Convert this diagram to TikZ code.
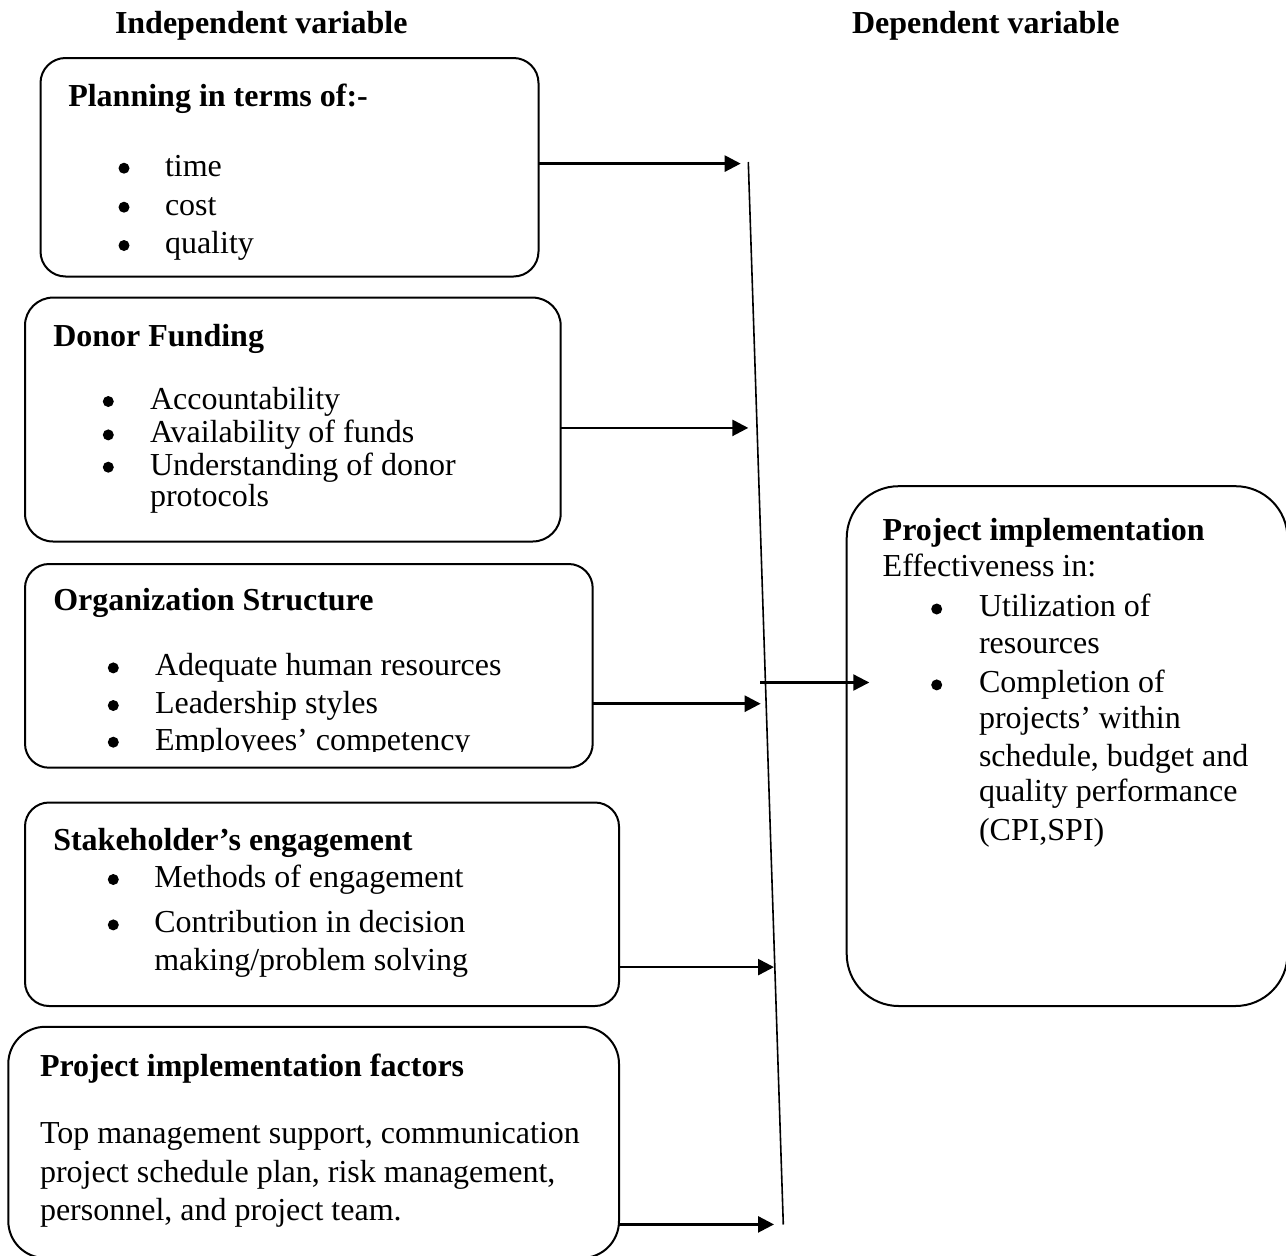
\documentclass[tikz,border=0pt]{standalone}
\usepackage{fontspec}
\setmainfont{Liberation Serif}
\usetikzlibrary{arrows.meta}

\begin{document}
\begin{tikzpicture}[x=1pt,y=-1pt,
  box/.style={draw, line width=2pt, rectangle, inner sep=0pt, outer sep=0pt},
  txt/.style={anchor=base west, inner sep=0pt, outer sep=0pt, font=\fontsize{32}{38}\selectfont},
  head/.style={txt, font=\fontsize{32}{38}\selectfont\bfseries},
  dot/.style={circle, fill, draw=none, inner sep=0pt, outer sep=0pt, minimum size=11pt},
  link/.style={line width=2.6pt, -{Triangle[length=16pt,width=16pt]}},
  spine/.style={line width=1.6pt},
]
\useasboundingbox (0,0) rectangle (1286,1256);
\clip (0,0) rectangle (1286,1256);

% column headings
\node[head] (hind) at (115,33.3) {Independent variable};
\node[head] (hdep) at (852,33.3) {Dependent variable};

% factor boxes
\node[box, minimum width=498pt, minimum height=218.5pt, rounded corners=25pt] (b1) at (289.5,167.25) {};
\node[box, minimum width=535.7pt, minimum height=243.9pt, rounded corners=28pt] (b2) at (292.85,419.55) {};
\node[box, minimum width=567.7pt, minimum height=203.7pt, rounded corners=24pt] (b3) at (308.85,665.85) {};
\node[box, minimum width=594pt, minimum height=203.5pt, rounded corners=24pt] (b4) at (322,904.25) {};
\node[box, minimum width=610.7pt, minimum height=231.2pt, rounded corners=37pt] (b5) at (313.65,1142.4) {};
% outcome box
\node[box, minimum width=440.8pt, minimum height=519.8pt, rounded corners=52pt] (b6) at (1067.1,746.1) {};

% planning
\node[head] (p1t) at (68.3,106) {Planning in terms of:-};
\node[dot] (p1d1) at (124,168.2) {};
\node[txt] (p1i1) at (165,176) {time};
\node[dot] (p1d2) at (124,207.2) {};
\node[txt] (p1i2) at (165,215) {cost};
\node[dot] (p1d3) at (124,245.5) {};
\node[txt] (p1i3) at (165,253.3) {quality};

% donor funding
\node[head] (p2t) at (53.3,346.7) {Donor Funding};
\node[dot] (p2d1) at (108.3,401.5) {};
\node[txt] (p2i1) at (150,409.3) {Accountability};
\node[dot] (p2d2) at (108.3,434.9) {};
\node[txt] (p2i2) at (150,442.7) {Availability of funds};
\node[dot] (p2d3) at (108.3,467.2) {};
\node[txt] (p2i3) at (150,475) {Understanding of donor};
\node[txt] (p2i4) at (150,506) {protocols};

% organization structure
\node[head] (p3t) at (53.3,610) {Organization Structure};
\node[dot] (p3d1) at (113.3,667.9) {};
\node[txt] (p3i1) at (155,675.7) {Adequate human resources};
\node[dot] (p3d2) at (113.3,705.5) {};
\node[txt] (p3i2) at (155,713.3) {Leadership styles};
\begin{scope}
  \clip (0,0) rectangle (1286,751.5);
  \node[dot] (p3d3) at (113.3,742.2) {};
  \node[txt] (p3i3) at (155,750) {Employees’ competency};
\end{scope}

% stakeholder engagement
\node[head] (p4t) at (53.3,850) {Stakeholder’s engagement};
\node[dot] (p4d1) at (113.3,879.5) {};
\node[txt] (p4i1) at (154.3,887.3) {Methods of engagement};
\node[dot] (p4d2) at (113.3,924.9) {};
\node[txt] (p4i2) at (154.3,932.7) {Contribution in decision};
\node[txt] (p4i3) at (154.3,970) {making/problem solving};

% implementation factors
\node[head] (p5t) at (40,1076.7) {Project implementation factors};
\node[txt] (p5l1) at (40,1143.3) {Top management support, communication};
\node[txt] (p5l2) at (40,1182.7) {project schedule plan, risk management,};
\node[txt] (p5l3) at (40,1220.7) {personnel, and project team.};

% outcome
\node[head] (p6t) at (882.7,540.6) {Project implementation};
\node[txt] (p6s) at (882.7,576.9) {Effectiveness in:};
\node[dot] (p6d1) at (936.7,609) {};
\node[txt] (p6i1) at (979,616.8) {Utilization of};
\node[txt] (p6i2) at (979,653.5) {resources};
\node[dot] (p6d2) at (936.7,684.9) {};
\node[txt] (p6i3) at (979,692.7) {Completion of};
\node[txt] (p6i4) at (979,728.6) {projects’ within};
\node[txt] (p6i5) at (979,766.3) {schedule, budget and};
\node[txt] (p6i6) at (979,801.8) {quality performance};
\node[txt] (p6i7) at (979,840) {(CPI,SPI)};

% collecting line and arrow ends
\coordinate (vtop) at (748.3,162);
\coordinate (vbot) at (783.3,1224.5);
\coordinate (t1) at (740.7,163.6);
\coordinate (t2) at (748.3,427.9);
\coordinate (t3) at (760.7,703.7);
\coordinate (t4) at (774,967.1);
\coordinate (t5) at (774,1224.4);
\coordinate (rs) at (760,682.5);
\coordinate (rt) at (869.3,682.5);

\draw[spine] (vtop) -- (vbot);
\draw[link] (b1.east |- t1) -- (t1);
\draw[link] (b2.east |- t2) -- (t2);
\draw[link] (b3.east |- t3) -- (t3);
\draw[link] (b4.east |- t4) -- (t4);
\draw[link] (b5.east |- t5) -- (t5);
\draw[link, line width=2.2pt] (rs) -- (rt);
\end{tikzpicture}
\end{document}
